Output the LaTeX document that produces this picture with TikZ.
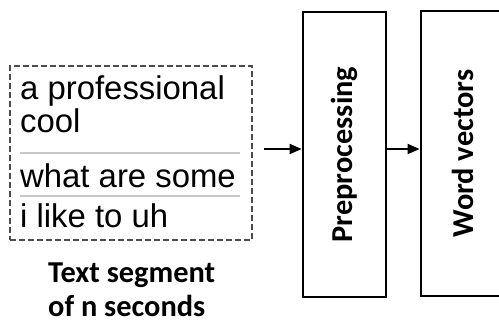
\documentclass[tikz,border=0pt]{standalone}
\usepackage{fontspec}
\setmainfont{Liberation Sans}
\newfontfamily\lblfont{Carlito}
\usetikzlibrary{arrows.meta}

\tikzset{
  segbox/.style={draw=black!70, line width=1.5bp, dash pattern=on 6bp off 3bp,
    minimum width=242bp, minimum height=174bp, inner sep=0},
  stagebox/.style={draw, line width=2.8bp, minimum width=83bp,
    minimum height=285bp, inner sep=0, font=\lblfont\bfseries\fontsize{30.5}{32}\selectfont},
  utt/.style={anchor=base west, inner sep=0, font=\fontsize{33}{35}\selectfont},
  lbl/.style={anchor=base west, inner sep=0, font=\lblfont\bfseries\fontsize{30.5}{32}\selectfont},
  sep/.style={draw=black!22, line width=1.2bp},
  arr/.style={line width=2bp, -{Triangle[length=12bp,width=10bp]}}
}

\begin{document}
\begin{tikzpicture}[x=1bp,y=-1bp]
	\useasboundingbox (0,0) rectangle (499,323);
	\clip (0,0) rectangle (499,323);

	% text segment
	\node[segbox] (seg) at (131,153) {};
	\node[utt] (u1) at (20,99) {a professional};
	\node[utt] (u2) at (20,132) {cool};
	\node[utt] (u3) at (20,187) {what are some};
	\node[utt] (u4) at (20,227) {i like to uh};
	\draw[sep] (20,153) -- (240,153);
	\draw[sep] (20,196) -- (240,196);

	\node[lbl] (lbl1) at (48,282) {Text segment};
	\node[lbl] (lbl2) at (48,316) {of n seconds};

	% stages
	\node[stagebox] (pre) at (344.5,154.5) {\rotatebox{90}{Preprocessing}};
	\node[stagebox] (wv) at (462.5,153.5) {\rotatebox{90}{Word vectors}};

	\coordinate (lvl) at (0,149);
	\draw[arr] ([xshift=11bp]seg.east |- lvl) -- (pre.west |- lvl);
	\draw[arr] (pre.east |- lvl) -- (wv.west |- lvl);
\end{tikzpicture}
\end{document}
